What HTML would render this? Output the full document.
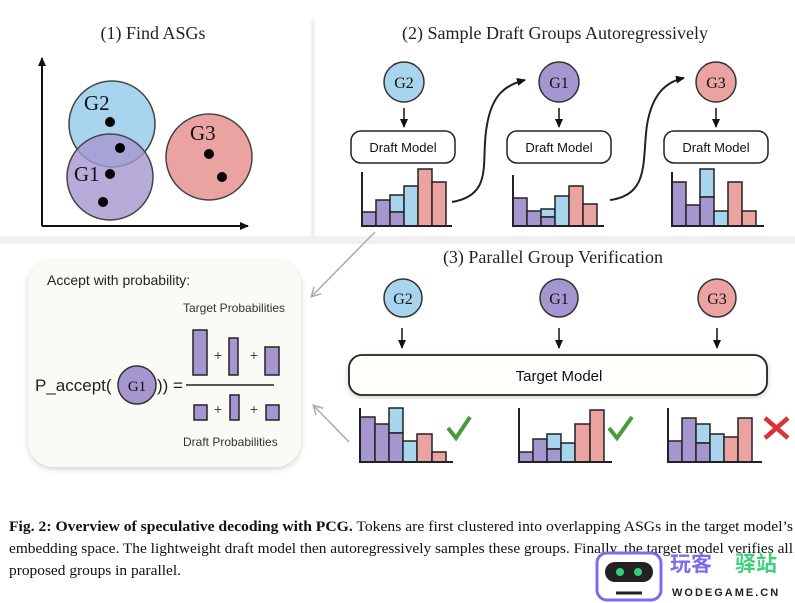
<!DOCTYPE html>
<html><head><meta charset="utf-8"><style>
body{margin:0;background:#fff;width:795px;height:603px;overflow:hidden}
svg{display:block}
.s{font-family:"Liberation Sans",sans-serif}
.r{font-family:"Liberation Serif",serif}
</style></head><body>
<svg width="795" height="603" viewBox="0 0 795 603" xmlns="http://www.w3.org/2000/svg">
<defs>
<marker id="ah" markerUnits="userSpaceOnUse" markerWidth="10" markerHeight="10" refX="8" refY="5" orient="auto"><path d="M0,1 L9,5 L0,9 z" fill="#111"/></marker>
<marker id="ag" markerUnits="userSpaceOnUse" markerWidth="12" markerHeight="12" refX="9" refY="6" orient="auto"><path d="M1,1 L10,6 L1,11" fill="none" stroke="#aaa" stroke-width="1.5"/></marker>
<filter id="sh" x="-10%" y="-10%" width="120%" height="120%"><feDropShadow dx="0" dy="2" stdDeviation="3" flood-color="#000" flood-opacity="0.18"/></filter>
</defs>
<rect x="0" y="0" width="795" height="603" fill="#fff"/>
<rect x="0" y="236" width="795" height="8" fill="#f1f1f1"/>
<rect x="311" y="20" width="4" height="216" fill="#f1f1f1"/>

<!-- Panel 1 -->
<text x="153" y="39" text-anchor="middle" class="r" font-size="18" fill="#222">(1) Find ASGs</text>
<line x1="42" y1="226" x2="42" y2="58" stroke="#111" stroke-width="2" marker-end="url(#ah)"/>
<line x1="42" y1="226" x2="248" y2="226" stroke="#111" stroke-width="2" marker-end="url(#ah)"/>
<circle cx="112" cy="124" r="43" fill="#a9d4ee" stroke="#444" stroke-width="1.5"/>
<circle cx="110" cy="177" r="43" fill="#a596d0" fill-opacity="0.8" stroke="#444" stroke-width="1.5"/>
<circle cx="209" cy="157" r="43" fill="#eaa3a0" stroke="#444" stroke-width="1.5"/>
<g fill="#000"><circle cx="110" cy="122" r="5"/><circle cx="120" cy="148" r="5"/><circle cx="110" cy="174" r="5"/><circle cx="103" cy="202" r="5"/><circle cx="209" cy="154" r="5"/><circle cx="222" cy="177" r="5"/></g>
<text x="84" y="110" class="r" font-size="21" fill="#111">G2</text>
<text x="74" y="181" class="r" font-size="21" fill="#111">G1</text>
<text x="190" y="140" class="r" font-size="21" fill="#111">G3</text>

<!-- Panel 2 -->
<text x="555" y="39" text-anchor="middle" class="r" font-size="18" fill="#222">(2) Sample Draft Groups Autoregressively</text>
<g stroke="#333" stroke-width="1.5">
<circle cx="404" cy="82" r="20" fill="#a9d4ee"/>
<circle cx="559" cy="82" r="20" fill="#a596d0"/>
<circle cx="716" cy="82" r="20" fill="#eaa3a0"/>
</g>
<g class="r" font-size="16" fill="#111" text-anchor="middle">
<text x="404" y="88">G2</text><text x="559" y="88">G1</text><text x="716" y="88">G3</text></g>
<g stroke="#111" stroke-width="1.5">
<line x1="404" y1="108" x2="404" y2="127" marker-end="url(#ah)"/>
<line x1="559" y1="108" x2="559" y2="127" marker-end="url(#ah)"/>
<line x1="716" y1="108" x2="716" y2="127" marker-end="url(#ah)"/>
</g>
<g fill="#fff" stroke="#222" stroke-width="1.5">
<rect x="351" y="131" width="104" height="32" rx="10"/>
<rect x="507" y="131" width="104" height="32" rx="10"/>
<rect x="664" y="131" width="104" height="32" rx="10"/>
</g>
<g class="s" font-size="13" fill="#111" text-anchor="middle">
<text x="403" y="152">Draft Model</text><text x="559" y="152">Draft Model</text><text x="716" y="152">Draft Model</text></g>
<g stroke="#222" stroke-width="1.5">
<rect x="362" y="212" width="14" height="14" fill="#a596d0"/>
<rect x="376" y="200" width="14" height="26" fill="#a596d0"/>
<rect x="390" y="195" width="14" height="17" fill="#a9d4ee"/>
<rect x="390" y="212" width="14" height="14" fill="#a596d0"/>
<rect x="404" y="186" width="14" height="40" fill="#a9d4ee"/>
<rect x="418" y="169" width="14" height="57" fill="#eaa3a0"/>
<rect x="432" y="182" width="14" height="44" fill="#eaa3a0"/>
<rect x="513" y="198" width="14" height="28" fill="#a596d0"/>
<rect x="527" y="211" width="14" height="15" fill="#a596d0"/>
<rect x="541" y="209" width="14" height="8" fill="#a9d4ee"/>
<rect x="541" y="217" width="14" height="9" fill="#a596d0"/>
<rect x="555" y="196" width="14" height="30" fill="#a9d4ee"/>
<rect x="569" y="186" width="14" height="40" fill="#eaa3a0"/>
<rect x="583" y="204" width="14" height="22" fill="#eaa3a0"/>
<rect x="672" y="182" width="14" height="44" fill="#a596d0"/>
<rect x="686" y="205" width="14" height="21" fill="#a596d0"/>
<rect x="700" y="169" width="14" height="28" fill="#a9d4ee"/>
<rect x="700" y="197" width="14" height="29" fill="#a596d0"/>
<rect x="714" y="211" width="14" height="15" fill="#a9d4ee"/>
<rect x="728" y="182" width="14" height="44" fill="#eaa3a0"/>
<rect x="742" y="211" width="14" height="15" fill="#eaa3a0"/>
</g>
<g stroke="#222" stroke-width="2" fill="none">
<path d="M362,172 V226 H452"/><path d="M513,175 V226 H604"/><path d="M672,172 V226 H764"/>
<path d="M452,202 C495,195 480,160 487,125 C492,95 505,85 525,80" marker-end="url(#ah)"/>
<path d="M610,200 C650,195 642,160 647,125 C652,95 665,82 684,78" marker-end="url(#ah)"/>
</g>

<!-- Panel 3 -->
<text x="553" y="263" text-anchor="middle" class="r" font-size="18" fill="#222">(3) Parallel Group Verification</text>
<g stroke="#333" stroke-width="1.5">
<circle cx="403" cy="298" r="19" fill="#a9d4ee"/>
<circle cx="559" cy="298" r="19" fill="#a596d0"/>
<circle cx="717" cy="298" r="19" fill="#eaa3a0"/>
</g>
<g class="r" font-size="16" fill="#111" text-anchor="middle">
<text x="403" y="304">G2</text><text x="559" y="304">G1</text><text x="717" y="304">G3</text></g>
<g stroke="#111" stroke-width="1.5">
<line x1="402" y1="328" x2="402" y2="348" marker-end="url(#ah)"/>
<line x1="559" y1="328" x2="559" y2="348" marker-end="url(#ah)"/>
<line x1="717" y1="328" x2="717" y2="348" marker-end="url(#ah)"/>
</g>
<rect x="349" y="355" width="418" height="40" rx="13" fill="#fffffb" stroke="#222" stroke-width="1.8" filter="url(#sh)"/>
<text x="559" y="381" text-anchor="middle" class="s" font-size="15" fill="#111">Target Model</text>
<g stroke="#222" stroke-width="1.5">
<rect x="360" y="417" width="15" height="45" fill="#a596d0"/>
<rect x="375" y="424" width="14" height="38" fill="#a596d0"/>
<rect x="389" y="408" width="14" height="25" fill="#a9d4ee"/>
<rect x="389" y="433" width="14" height="29" fill="#a596d0"/>
<rect x="403" y="441" width="14" height="21" fill="#a9d4ee"/>
<rect x="417" y="434" width="15" height="28" fill="#eaa3a0"/>
<rect x="432" y="452" width="14" height="10" fill="#eaa3a0"/>
<rect x="519" y="452" width="14" height="10" fill="#a596d0"/>
<rect x="533" y="439" width="14" height="23" fill="#a596d0"/>
<rect x="547" y="434" width="14" height="15" fill="#a9d4ee"/>
<rect x="547" y="449" width="14" height="13" fill="#a596d0"/>
<rect x="561" y="443" width="14" height="19" fill="#a9d4ee"/>
<rect x="575" y="424" width="15" height="38" fill="#eaa3a0"/>
<rect x="590" y="410" width="14" height="52" fill="#eaa3a0"/>
<rect x="668" y="441" width="14" height="21" fill="#a596d0"/>
<rect x="682" y="418" width="14" height="44" fill="#a596d0"/>
<rect x="696" y="424" width="14" height="19" fill="#a9d4ee"/>
<rect x="696" y="443" width="14" height="19" fill="#a596d0"/>
<rect x="710" y="434" width="14" height="28" fill="#a9d4ee"/>
<rect x="724" y="437" width="14" height="25" fill="#eaa3a0"/>
<rect x="738" y="418" width="14" height="44" fill="#eaa3a0"/>
</g>
<g stroke="#222" stroke-width="2" fill="none">
<path d="M360,408 V462 H453"/><path d="M519,408 V462 H612"/><path d="M668,408 V462 H762"/>
</g>
<path d="M448,428 L456,438 L470,417" stroke="#4a9a3a" stroke-width="4" fill="none"/>
<path d="M609,428 L617,438 L632,417" stroke="#4a9a3a" stroke-width="4" fill="none"/>
<path d="M765,418 L788,438 M788,418 L765,438" stroke="#d9333a" stroke-width="4.5"/>

<!-- Left box -->
<rect x="28" y="260" width="273" height="207" rx="26" fill="#fbfbf6" filter="url(#sh)"/>
<text x="47" y="285" class="s" font-size="14" fill="#222">Accept with probability:</text>
<text x="183" y="312" class="s" font-size="12" fill="#333">Target Probabilities</text>
<text x="183" y="446" class="s" font-size="12" fill="#333">Draft Probabilities</text>
<g stroke="#222" stroke-width="1.5" fill="#a596d0">
<rect x="193" y="330" width="14" height="45"/><rect x="229" y="338" width="9" height="37"/><rect x="265" y="347" width="14" height="28"/>
<rect x="194" y="405" width="13" height="15"/><rect x="230" y="395" width="9" height="25"/><rect x="266" y="405" width="13" height="15"/>
</g>
<g class="s" font-size="14" fill="#444" text-anchor="middle">
<text x="218" y="360">+</text><text x="254" y="360">+</text><text x="218" y="414">+</text><text x="254" y="414">+</text></g>
<line x1="186" y1="385" x2="274" y2="385" stroke="#222" stroke-width="1.5"/>
<text x="35" y="391" class="s" font-size="17" fill="#222">P_accept(</text>
<circle cx="137" cy="385" r="19" fill="#a596d0" stroke="#333" stroke-width="1.5"/>
<text x="137" y="391" text-anchor="middle" class="r" font-size="15" fill="#111">G1</text>
<text x="157" y="391" class="s" font-size="17" fill="#222">)) =</text>
<line x1="375" y1="232" x2="312" y2="296" stroke="#aaa" stroke-width="1.5" marker-end="url(#ag)"/>
<line x1="349" y1="442" x2="314" y2="406" stroke="#aaa" stroke-width="1.5" marker-end="url(#ag)"/>

<!-- Caption -->
<g class="r" font-size="15" fill="#111">
<text x="9" y="531" textLength="784" lengthAdjust="spacingAndGlyphs"><tspan font-weight="bold">Fig. 2: Overview of speculative decoding with PCG.</tspan> Tokens are first clustered into overlapping ASGs in the target model’s</text>
<text x="9" y="553" textLength="784" lengthAdjust="spacingAndGlyphs">embedding space. The lightweight draft model then autoregressively samples these groups. Finally, the target model verifies all</text>
<text x="9" y="575" textLength="172" lengthAdjust="spacingAndGlyphs">proposed groups in parallel.</text>
</g>
<!-- watermark -->
<rect x="597" y="553" width="64" height="47" rx="10" fill="#fff" stroke="#7b6cf0" stroke-width="3"/>
<rect x="605" y="562" width="48" height="20" rx="10" fill="#222"/>
<circle cx="620" cy="572" r="4" fill="#2fd27a"/><circle cx="638" cy="572" r="4" fill="#2fd27a"/>
<line x1="616" y1="593" x2="642" y2="593" stroke="#222" stroke-width="3"/>
<text x="670" y="571" font-family="'Noto Sans CJK SC',sans-serif" font-size="21" font-weight="bold" fill="#7b6cf0">玩客</text>
<text x="735" y="571" font-family="'Noto Sans CJK SC',sans-serif" font-size="21" font-weight="bold" fill="#3ed07a">驿站</text>
<text x="672" y="596" class="s" font-size="11" font-weight="bold" letter-spacing="2" fill="#222">WODEGAME.CN</text>
</svg>
</body></html>
